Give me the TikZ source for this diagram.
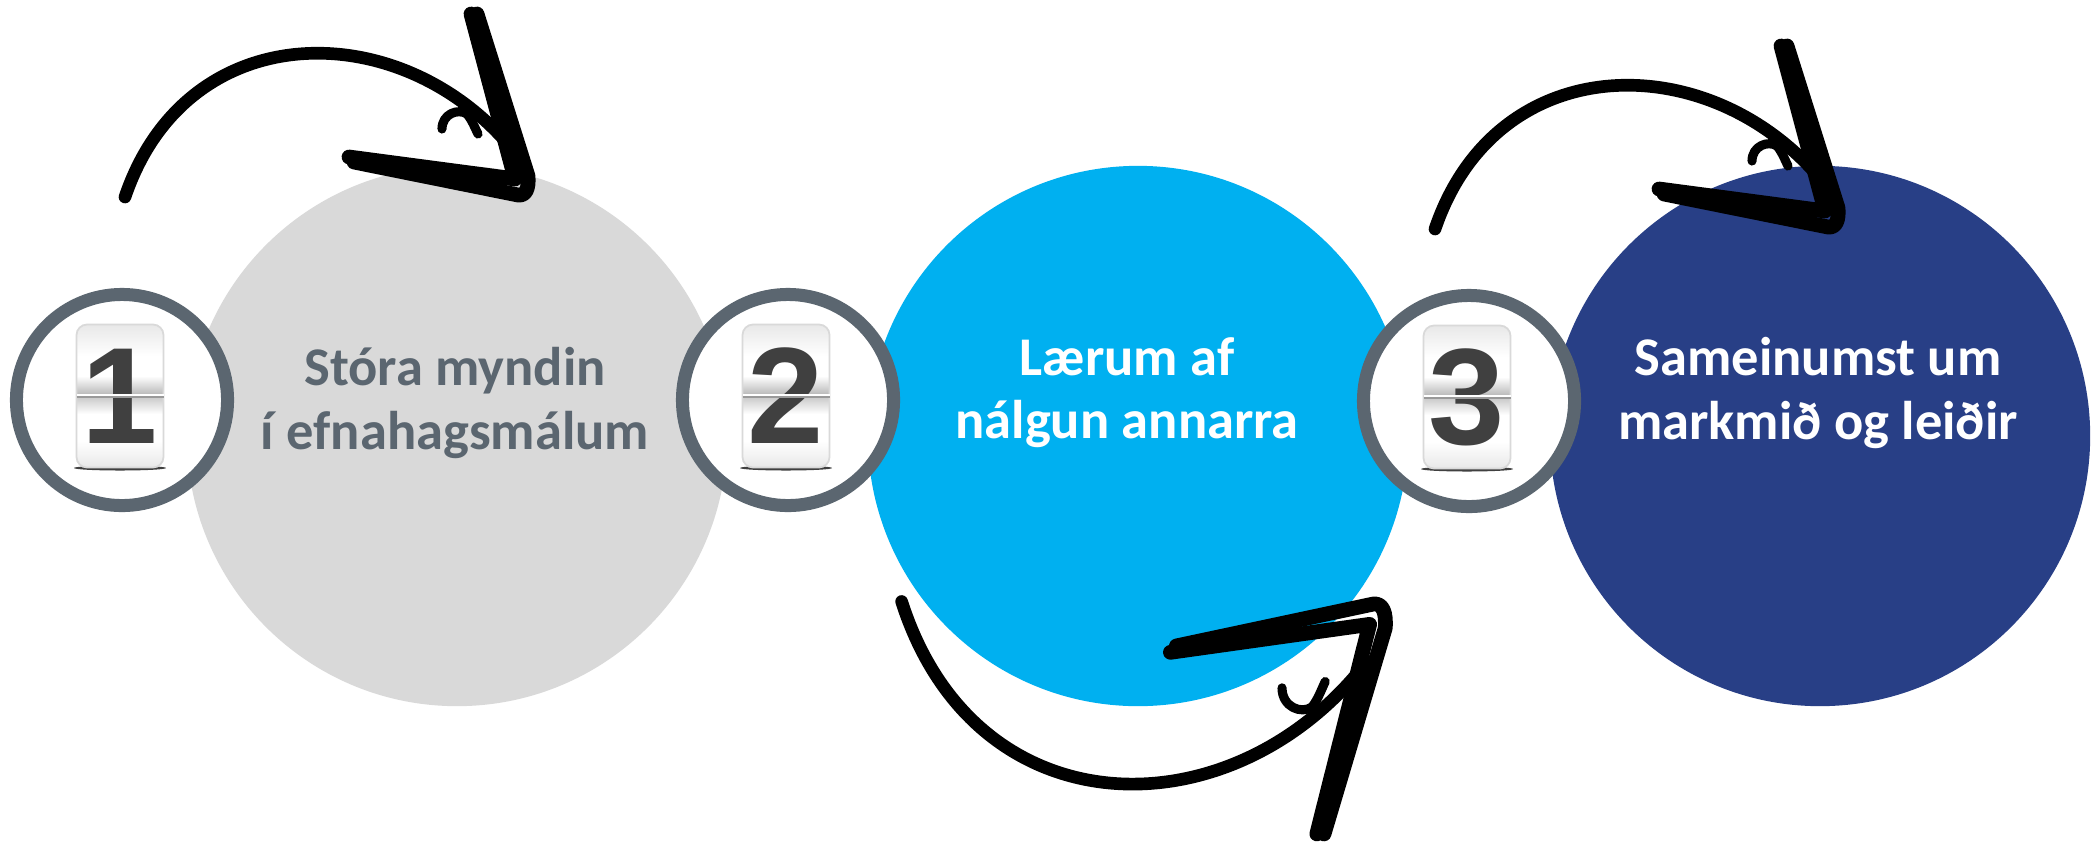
\documentclass[tikz,border=0pt]{standalone}
\usepackage{fontspec}
\setmainfont{Carlito}
\newfontfamily\digitfont{Liberation Sans}
\usepackage{tikz}
\usetikzlibrary{positioning}

\definecolor{ringgray}{HTML}{5B6670}
\definecolor{discgray}{HTML}{D9D9D9}
\definecolor{discblue}{HTML}{00B0F0}
\definecolor{discnavy}{HTML}{283F86}
\definecolor{digitgray}{HTML}{404040}

\tikzset{
	disc/.style = {circle, minimum size = 5.4cm, inner sep = 0pt},
	badge/.style = {circle, draw = ringgray, line width = 3.7pt, fill = white, minimum size = 2.11cm, inner sep = 0pt},
	caption/.style = {align = center, inner sep = 0pt, font = \fontsize{15.5}{18}\selectfont\bfseries},
	digit/.style = {inner sep = 0pt, text = digitgray, font = \digitfont\bfseries\fontsize{39}{39}\selectfont},
	ink/.style = {line width = 4.2pt, line cap = round, line join = round}
}

% hand drawn arrow, tip at the origin
\newcommand{\scribblearrow}{%
	\draw[ink, line width = 3.6pt] (-397,13) .. controls (-335,-170) and (-120,-170) .. (-9,-34);
	\draw[ink] (-51,-170) -- (-7,-5) -- (-173,-27);
	\draw[ink] (-168,-22) -- (-4,11) .. controls (4,12) and (7,4) .. (6,-8) -- (-45,-170);
	\draw[ink, line width = 2.6pt] (-80,-55) .. controls (-80,-70) and (-64,-76) .. (-55,-70) .. controls (-50,-64) and (-47,-56) .. (-44,-50);
}

% flip clock card
\newcommand{\fliptile}[3]{%
	\begin{scope}[shift = {(#1)}, shift = {(-2,-4)}]
		\fill[black!75] (0,72) ellipse [x radius = 46, y radius = 2.5];
		\begin{scope}
			\clip[rounded corners = 3pt] (-43.5,-71.5) rectangle (43.5,71.5);
			\fill[white] (-43.5,-71.5) rectangle (43.5,71.5);
			\shade[top color = black!9, bottom color = white] (-43.5,-71.5) rectangle (43.5,-40);
			\shade[top color = white, bottom color = black!30] (-43.5,-20) rectangle (43.5,0);
			\shade[top color = black!22, bottom color = white] (-43.5,0) rectangle (43.5,18);
			\shade[top color = white, bottom color = black!9] (-43.5,45) rectangle (43.5,71.5);
		\end{scope}
		\draw[black!15, line width = 0.5pt, rounded corners = 3pt] (-43.5,-71.5) rectangle (43.5,71.5);
		\node[digit] (#3) at (0,0) {#2};
		\draw[white, line width = 0.8pt] (-43.5,-1) -- (43.5,-1);
		\draw[black!40, line width = 0.6pt] (-43.5,1.2) -- (43.5,1.2);
	\end{scope}}

\begin{document}
\begin{tikzpicture}[x = 0.01cm, y = -0.01cm]

	\fill[white] (0,0) rectangle (2098,851);
	\useasboundingbox (0,0) rectangle (2098,851);

	\node[disc, fill = discgray] (stora) at (457,436) {};
	\node[disc, fill = discblue] (laerum) at (1138,436) {};
	\node[disc, fill = discnavy] (sameinumst) at (1820,436) {};

	\node[badge] (badge1) at (122,400) {};
	\node[badge] (badge2) at (788,400) {};
	\node[badge] (badge3) at (1469,401) {};
	\fliptile{badge1.center}{1}{num1}
	\fliptile{badge2.center}{2}{num2}
	\fliptile{badge3.center}{3}{num3}

	\node[caption, text = ringgray] (txt1) at (455,403) {Stóra myndin\\í efnahagsmálum};
	\node[caption, text = white] (txt2) at (1127,393) {Lærum af\\nálgun annarra};
	\node[caption, text = white] (txt3) at (1818,393) {Sameinumst um\\markmið og leiðir};

	\begin{scope}[shift = {(522,184)}]
		\scribblearrow
	\end{scope}
	\begin{scope}[shift = {(1832,216)}]
		\scribblearrow
	\end{scope}
	\begin{scope}[shift = {(1378,618)}, xscale = 1.2, yscale = -1.27]
		\scribblearrow
	\end{scope}

\end{tikzpicture}
\end{document}
